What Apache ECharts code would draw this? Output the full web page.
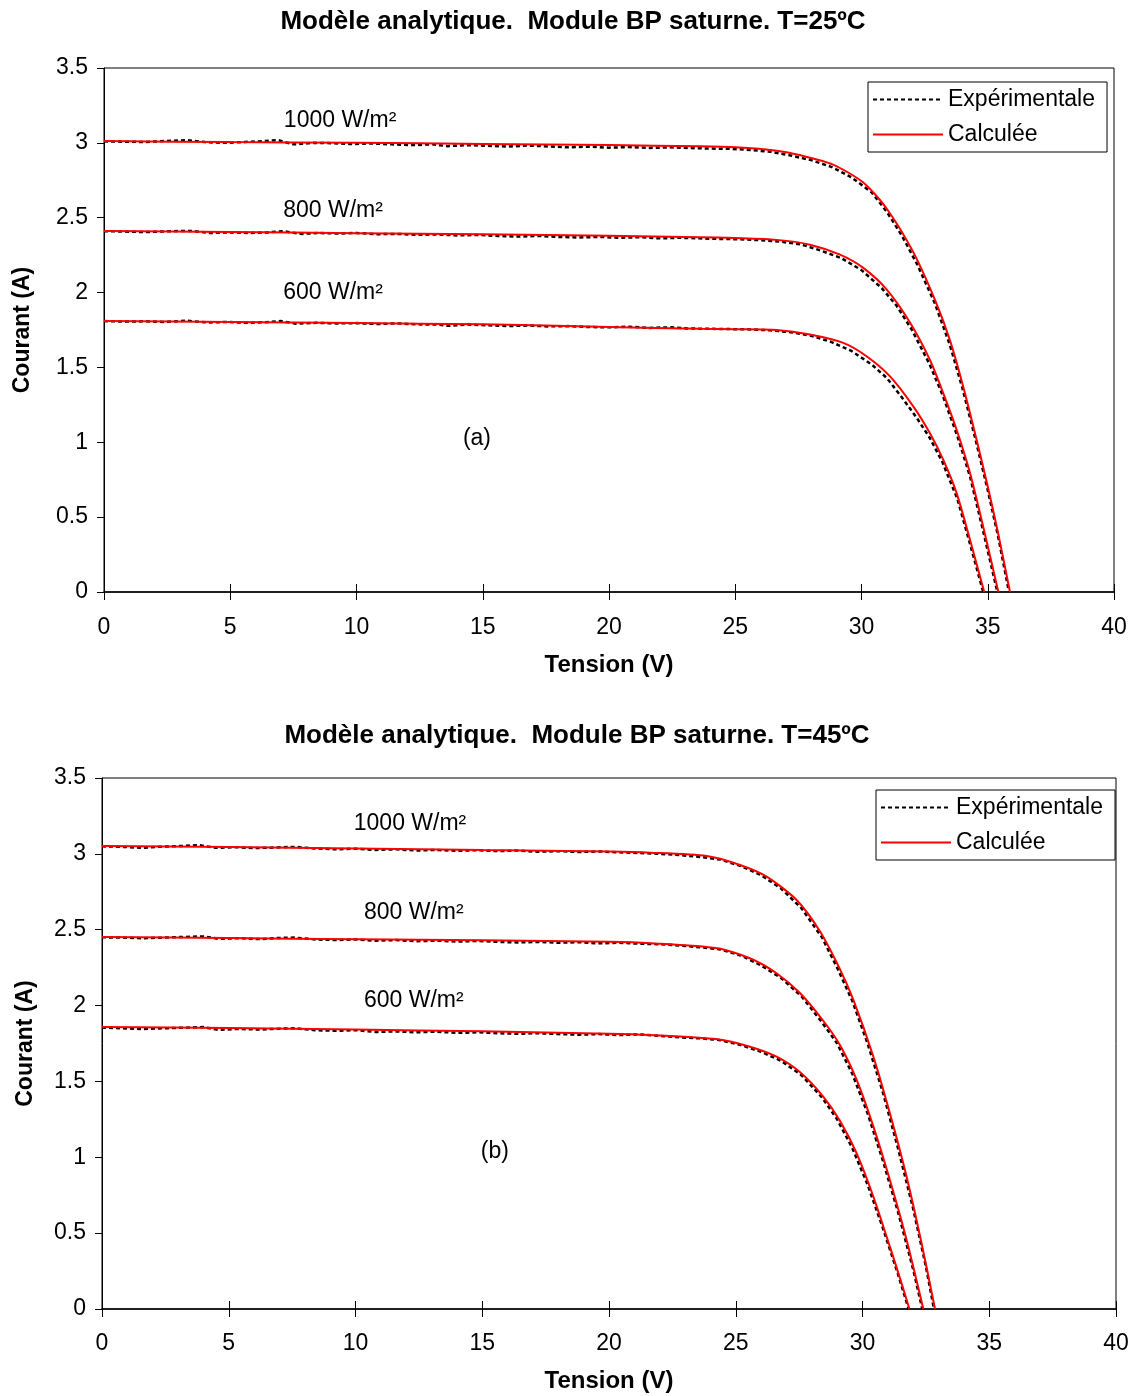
<!DOCTYPE html>
<html>
<head>
<meta charset="utf-8">
<script src="https://cdn.jsdelivr.net/npm/echarts@6/dist/echarts.min.js"></script>
<style>
html,body{margin:0;padding:0;background:#fff;}
#chart{width:1140px;height:1396px;}
</style>
</head>
<body>
<div id="chart"></div>
<script>
// ---------- DATA ----------
const titles = ['Modèle analytique.  Module BP saturne. T=25ºC', 'Modèle analytique.  Module BP saturne. T=45ºC'];
const xTicks = [0, 5, 10, 15, 20, 25, 30, 35, 40];
const yTicks = [0, 0.5, 1, 1.5, 2, 2.5, 3, 3.5];
const legendNames = ['Expérimentale', 'Calculée'];

// Plot (a) T=25ºC  — [Tension V, Courant A]
const expA1000 = [[0,3.01],[0.8,3.008],[1.6,3.006],[2.4,3.012],[3.3,3.018],[4.0,3.005],[4.8,3.0],[5.6,3.006],[6.4,3.012],[6.9,3.018],[7.5,2.99],[8.3,3.0],[9.0,2.998],[9.8,2.992],[10.6,2.996],[11.4,2.99],[12.2,2.985],[13.0,2.99],[13.6,2.978],[14.4,2.985],[15.2,2.98],[16.0,2.975],[16.8,2.982],[17.6,2.976],[18.4,2.97],[19.2,2.975],[20.0,2.968],[20.8,2.972],[21.6,2.966],[22.4,2.97],[23.2,2.965],[24.0,2.962],[24.8,2.96],[25.6,2.953],[26.4,2.94],[27.2,2.915],[28.0,2.885],[28.8,2.84],[29.6,2.77],[30.4,2.67],[31.0,2.54],[31.6,2.38],[32.2,2.19],[32.9,1.93],[33.5,1.65],[34.0,1.36],[34.5,1.03],[35.0,0.68],[35.4,0.38],[35.84,0]];
const expA800 = [[0,2.41],[0.8,2.408],[1.6,2.404],[2.6,2.41],[3.5,2.412],[4.2,2.398],[5.0,2.402],[5.8,2.398],[6.5,2.402],[7.1,2.41],[7.8,2.392],[8.5,2.398],[9.3,2.394],[10.0,2.398],[10.8,2.39],[11.6,2.392],[12.4,2.386],[13.2,2.388],[14.0,2.382],[14.8,2.385],[15.6,2.378],[16.4,2.374],[17.2,2.378],[18.0,2.372],[18.8,2.368],[19.6,2.372],[20.4,2.366],[21.2,2.37],[22.0,2.362],[22.8,2.366],[23.6,2.362],[24.4,2.358],[25.2,2.356],[26.0,2.35],[26.8,2.34],[27.6,2.322],[28.4,2.28],[29.2,2.23],[30.0,2.15],[30.8,2.03],[31.4,1.91],[32.0,1.75],[32.7,1.52],[33.2,1.32],[33.8,1.04],[34.3,0.77],[34.8,0.42],[35.38,0]];
const expA600 = [[0,1.81],[0.8,1.806],[1.6,1.808],[2.4,1.804],[3.3,1.812],[4.1,1.8],[4.9,1.804],[5.6,1.798],[6.4,1.802],[7.0,1.81],[7.6,1.792],[8.4,1.798],[9.2,1.794],[10.0,1.796],[10.8,1.79],[11.6,1.794],[12.4,1.788],[13.2,1.786],[13.6,1.778],[14.4,1.786],[15.2,1.782],[16.0,1.776],[16.8,1.78],[17.6,1.774],[18.4,1.776],[19.2,1.77],[20.0,1.768],[20.8,1.772],[21.6,1.764],[22.4,1.768],[23.2,1.76],[24.0,1.758],[24.8,1.756],[25.6,1.754],[26.4,1.748],[27.2,1.735],[28.0,1.712],[28.8,1.67],[29.6,1.61],[30.4,1.52],[31.0,1.43],[31.6,1.3],[32.2,1.16],[32.7,1.03],[33.2,0.87],[33.8,0.62],[34.3,0.32],[34.82,0]];
const calA1000 = [[0,3.012],[5,3.005],[10,3.0],[15,2.993],[20,2.985],[23.6,2.977],[25,2.97],[26.64,2.948],[27.5,2.92],[28.87,2.855],[30.07,2.735],[31.0,2.56],[32.05,2.27],[32.91,1.951],[33.5,1.683],[34.03,1.371],[34.56,1.015],[35.02,0.69],[35.42,0.385],[35.88,0]];
const calA800 = [[0,2.412],[5,2.405],[10,2.397],[15,2.39],[20,2.38],[23.6,2.37],[25,2.364],[26.64,2.352],[27.96,2.32],[29.15,2.253],[30.07,2.165],[31.0,2.02],[31.92,1.8],[32.71,1.55],[33.24,1.327],[33.77,1.082],[34.3,0.793],[34.82,0.436],[35.42,0]];
const calA600 = [[0,1.81],[5,1.803],[10,1.796],[15,1.788],[20,1.77],[23.6,1.758],[25,1.755],[26.64,1.75],[27.96,1.72],[29.28,1.664],[30.2,1.575],[31.13,1.44],[32.05,1.24],[32.71,1.06],[33.24,0.882],[33.77,0.659],[34.3,0.347],[34.86,0]];

// Plot (b) T=45ºC
const expB1000 = [[0,3.05],[0.8,3.046],[1.6,3.04],[2.4,3.048],[3.2,3.052],[3.8,3.058],[4.5,3.04],[5.3,3.044],[6.0,3.038],[6.8,3.042],[7.6,3.046],[8.4,3.036],[9.2,3.03],[10.0,3.034],[10.8,3.026],[11.6,3.03],[12.4,3.022],[13.2,3.026],[14.0,3.02],[14.8,3.024],[15.6,3.018],[16.4,3.022],[17.2,3.014],[18.0,3.018],[18.8,3.012],[19.6,3.016],[20.4,3.01],[21.2,3.006],[22.0,3.0],[22.8,2.992],[23.6,2.98],[24.4,2.962],[25.2,2.92],[26.0,2.86],[26.8,2.77],[27.6,2.64],[28.4,2.45],[29.0,2.25],[29.6,2.03],[30.2,1.75],[30.8,1.43],[31.4,1.06],[32.0,0.66],[32.5,0.28],[32.82,0]];
const expB800 = [[0,2.45],[0.8,2.448],[1.6,2.444],[2.4,2.448],[3.2,2.452],[4.0,2.456],[4.6,2.44],[5.4,2.444],[6.2,2.438],[7.0,2.446],[7.6,2.448],[8.4,2.436],[9.2,2.432],[10.0,2.436],[10.8,2.428],[11.6,2.432],[12.4,2.424],[13.2,2.428],[14.0,2.422],[14.8,2.426],[15.6,2.42],[16.4,2.416],[17.2,2.42],[18.0,2.414],[18.8,2.418],[19.6,2.41],[20.4,2.414],[21.2,2.408],[22.0,2.404],[22.8,2.396],[23.6,2.384],[24.4,2.37],[25.2,2.33],[26.0,2.265],[26.8,2.18],[27.6,2.06],[28.4,1.89],[29.0,1.75],[29.6,1.55],[30.2,1.29],[30.8,0.98],[31.4,0.64],[32.0,0.26],[32.36,0]];
const expB600 = [[0,1.855],[0.8,1.85],[1.6,1.846],[2.4,1.85],[3.2,1.854],[4.0,1.858],[4.6,1.84],[5.4,1.846],[6.2,1.842],[7.0,1.848],[7.6,1.85],[8.4,1.838],[9.2,1.834],[10.0,1.838],[10.8,1.826],[11.6,1.83],[12.4,1.824],[13.2,1.828],[14.0,1.82],[14.8,1.824],[15.6,1.818],[16.4,1.814],[17.2,1.818],[18.0,1.812],[18.8,1.808],[19.6,1.812],[20.4,1.806],[21.2,1.81],[22.0,1.8],[22.8,1.79],[23.6,1.784],[24.4,1.772],[25.2,1.74],[26.0,1.695],[26.8,1.635],[27.6,1.54],[28.4,1.395],[29.0,1.25],[29.6,1.06],[30.2,0.82],[30.8,0.535],[31.4,0.23],[31.82,0]];
const calB1000 = [[0,3.052],[5,3.045],[10,3.035],[15,3.025],[20,3.015],[21.62,3.008],[23.85,2.986],[25.17,2.927],[26.22,2.85],[27.4,2.696],[28.32,2.49],[29.11,2.24],[29.64,2.037],[30.43,1.663],[31.08,1.29],[31.74,0.872],[32.33,0.433],[32.86,0]];
const calB800 = [[0,2.452],[5,2.445],[10,2.437],[15,2.43],[20,2.42],[21.62,2.411],[24.27,2.378],[25.56,2.312],[26.61,2.213],[27.54,2.081],[28.45,1.9],[29.11,1.74],[29.77,1.51],[30.43,1.202],[31.08,0.85],[31.74,0.455],[32.4,0]];
const calB600 = [[0,1.859],[5,1.852],[10,1.842],[15,1.83],[20,1.815],[21.62,1.806],[24.27,1.778],[25.56,1.729],[26.61,1.663],[27.54,1.56],[28.45,1.4],[29.11,1.24],[29.77,1.026],[30.43,0.74],[31.08,0.411],[31.54,0.17],[31.85,0]];

// annotation labels [V, I, text]
const notesA = [[9.35,3.146,'1000 W/m²'],[9.07,2.545,'800 W/m²'],[9.07,2.0,'600 W/m²'],[14.77,1.022,'(a)']];
const notesB = [[12.15,3.197,'1000 W/m²'],[12.3,2.61,'800 W/m²'],[12.3,2.03,'600 W/m²'],[15.5,1.04,'(b)']];

// ---------- CHART ----------
const FONT = '"Liberation Sans", Arial, sans-serif';
const grids = [
  {left:104, top:68, width:1010, height:524, show:true, borderColor:'#000', borderWidth:1, backgroundColor:'transparent'},
  {left:102, top:778, width:1014, height:531, show:true, borderColor:'#000', borderWidth:1, backgroundColor:'transparent'}
];

function xAx(gi, labelMargin, nameGap){
  return [{
    type:'value', gridIndex:gi, min:xTicks[0], max:xTicks[xTicks.length-1], interval:xTicks[1]-xTicks[0],
    name:'Tension (V)', nameLocation:'middle', nameGap:nameGap,
    nameTextStyle:{fontFamily:FONT, fontSize:24, fontWeight:'bold', color:'#000'},
    axisLine:{show:true, onZero:false, lineStyle:{color:'#000', width:1.5}},
    axisTick:{show:true, inside:false, length:8, lineStyle:{color:'#000', width:1}},
    axisLabel:{fontFamily:FONT, fontSize:23, color:'#000', margin:labelMargin},
    splitLine:{show:false}
  },{
    type:'value', gridIndex:gi, position:'bottom', min:xTicks[0], max:xTicks[xTicks.length-1], interval:xTicks[1]-xTicks[0],
    axisLine:{show:false, onZero:false},
    axisTick:{show:true, inside:true, length:8, lineStyle:{color:'#000', width:1}},
    axisLabel:{show:false}, splitLine:{show:false}
  }];
}
function yAx(gi, labelMargin, nameGap){
  return {
    type:'value', gridIndex:gi, min:yTicks[0], max:yTicks[yTicks.length-1], interval:yTicks[1]-yTicks[0],
    name:'Courant (A)', nameLocation:'middle', nameGap:nameGap,
    nameTextStyle:{fontFamily:FONT, fontSize:23, fontWeight:'bold', color:'#000'},
    axisLine:{show:true, onZero:false, lineStyle:{color:'#000', width:1}},
    axisTick:{show:true, inside:false, length:7, lineStyle:{color:'#000', width:1}},
    axisLabel:{fontFamily:FONT, fontSize:23, color:'#000', margin:labelMargin},
    splitLine:{show:false}
  };
}

function expSeries(data, xi, yi){
  return {type:'line', name:legendNames[0], data:data, xAxisIndex:xi, yAxisIndex:yi, showSymbol:false, symbol:'none',
    lineStyle:{color:'#000', width:2.5, type:[4,3]}, itemStyle:{color:'#000'}, z:2, animation:false, silent:true};
}
function calSeries(data, xi, yi){
  return {type:'line', name:legendNames[1], data:data, xAxisIndex:xi, yAxisIndex:yi, showSymbol:false, symbol:'none',
    smooth:0.25,
    lineStyle:{color:'#ff0000', width:2}, itemStyle:{color:'#ff0000'}, z:3, animation:false, silent:true};
}
function noteSeries(notes, xi, yi){
  return {type:'scatter', name:'notes', xAxisIndex:xi, yAxisIndex:yi, symbolSize:0, silent:true, animation:false,
    itemStyle:{opacity:1, color:'#000'},
    data:notes.map(n=>({value:[n[0],n[1]], name:n[2]})),
    label:{show:true, position:'inside', formatter:p=>p.name, fontFamily:FONT, fontSize:23, color:'#000', opacity:1}, z:5};
}
function legendAt(left, top){
  return {data:legendNames, left:left, top:top, orient:'vertical', itemWidth:70, itemHeight:14, itemGap:12,
    padding:[6,12,6,4], borderColor:'#000', borderWidth:1, backgroundColor:'#fff', selectedMode:false,
    itemStyle:{opacity:0, borderWidth:0},
    textStyle:{fontFamily:FONT, fontSize:23, color:'#000'}};
}

const xA = xAx(0, 24, 61), xB = xAx(1, 23, 60);
const option = {
  backgroundColor:'#fff',
  animation:false,
  title: [
    {text:titles[0], left:568, top:4, textAlign:'center', textStyle:{fontFamily:FONT, fontSize:26, fontWeight:'bold', color:'#000'}},
    {text:titles[1], left:572, top:718, textAlign:'center', textStyle:{fontFamily:FONT, fontSize:26, fontWeight:'bold', color:'#000'}}
  ],
  legend: [legendAt(868, 82), legendAt(876, 790)],
  grid: grids,
  xAxis: [xA[0], xA[1], xB[0], xB[1]],
  yAxis: [yAx(0, 16, 70), yAx(1, 16, 65)],
  series: [
    expSeries(expA1000,0,0), expSeries(expA800,0,0), expSeries(expA600,0,0),
    calSeries(calA1000,0,0), calSeries(calA800,0,0), calSeries(calA600,0,0),
    noteSeries(notesA,0,0),
    expSeries(expB1000,2,1), expSeries(expB800,2,1), expSeries(expB600,2,1),
    calSeries(calB1000,2,1), calSeries(calB800,2,1), calSeries(calB600,2,1),
    noteSeries(notesB,2,1)
  ]
};
const chart = echarts.init(document.getElementById('chart'), null, {renderer:'canvas'});
chart.setOption(option);
</script>
</body>
</html>
